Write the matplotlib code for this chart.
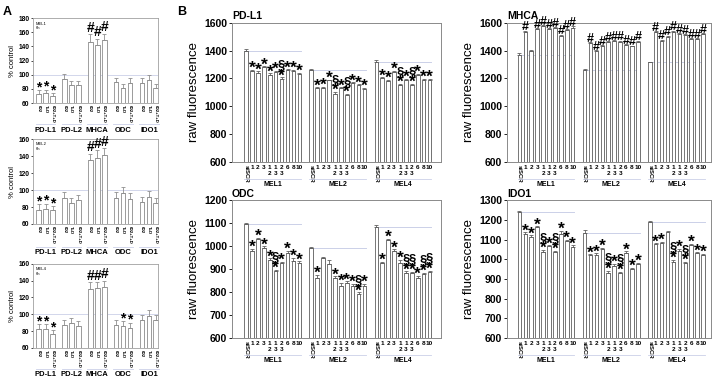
import matplotlib
matplotlib.use("Agg")
import matplotlib.pyplot as plt
import matplotlib.transforms as mtransforms
import numpy as np

plt.rcParams['font.family'] = ['Liberation Sans', 'DejaVu Sans']

# ---- panel A data (% control, 6h) ----
genes_a = ["PD-L1", "PD-L2", "MHCA", "ODC", "IDO1"]
treat_a = ["602", "T+D", "602+T+D"]

mel1_6h = [73, 74, 70, 94, 86, 86, 147, 142, 149, 90, 82, 89, 89, 93, 82]
mel1_6h_err = [5, 5, 4, 7, 5, 5, 10, 9, 9, 6, 5, 6, 6, 6, 5]
mel1_6h_marks = ["*", "*", "*", "", "", "", "#", "#", "#", "", "", "", "", "", ""]

mel2_6h = [76, 78, 76, 91, 85, 88, 135, 138, 141, 91, 96, 90, 86, 92, 85]
mel2_6h_err = [7, 6, 5, 7, 6, 6, 8, 9, 8, 7, 7, 7, 6, 7, 6]
mel2_6h_marks = ["*", "*", "*", "", "", "", "#", "#", "#", "", "", "", "", "", ""]

mel4_6h = [82, 82, 76, 87, 90, 86, 130, 131, 133, 87, 86, 84, 93, 98, 93]
mel4_6h_err = [6, 6, 5, 6, 6, 6, 8, 7, 7, 6, 6, 6, 6, 7, 6]
mel4_6h_marks = ["*", "*", "*", "", "", "", "#", "#", "#", "", "*", "*", "", "", ""]

# ---- panel B data (raw fluorescence) ----
cell_lines = ["MEL1", "MEL2", "MEL4"]
sirna = ["siSCR", "1", "2", "3", "1\n2", "1\n3", "2\n3", "6", "8", "10"]

pdl1 = [1395, 1255, 1240, 1280, 1225, 1245, 1195, 1260, 1255, 1235,
        1260, 1130, 1130, 1185, 1090, 1130, 1080, 1165, 1150, 1125,
        1320, 1200, 1180, 1245, 1150, 1190, 1150, 1225, 1190, 1190]
pdl1_err = [15, 6, 10, 6, 12, 8, 12, 6, 6, 6,
            6, 6, 8, 6, 12, 6, 8, 6, 8, 6,
            12, 8, 10, 8, 10, 6, 10, 8, 8, 6]
pdl1_marks = ["", "*", "*", "*", "*", "*", "§*", "*", "*", "*",
              "", "*", "*", "*", "§*", "*", "§*", "*", "*", "*",
              "", "*", "*", "*", "§*", "*", "§*", "*", "*", "*"]

mhca = [1370, 1535, 1395, 1555, 1575, 1555, 1560, 1505, 1545, 1565,
        1260, 1455, 1395, 1435, 1460, 1470, 1465, 1440, 1430, 1465,
        1315, 1530, 1470, 1500, 1535, 1520, 1510, 1480, 1480, 1520]
mhca_err = [10, 8, 6, 8, 8, 8, 8, 10, 8, 8,
            4, 6, 6, 6, 6, 6, 6, 6, 6, 6,
            4, 8, 8, 8, 8, 8, 8, 10, 8, 8]
mhca_marks = ["", "#", "", "#", "#", "#", "#", "#", "#", "#",
              "", "#", "#", "#", "#", "#", "#", "#", "#", "#",
              "", "#", "#", "#", "#", "#", "#", "#", "#", "#"]

odc = [1095, 978, 1030, 992, 940, 893, 925, 968, 935, 927,
       990, 863, 950, 922, 860, 825, 838, 828, 790, 825,
       1085, 925, 1025, 978, 925, 882, 885, 862, 878, 888]
odc_err = [6, 10, 6, 8, 8, 4, 6, 12, 14, 8,
           4, 12, 4, 18, 8, 15, 10, 8, 10, 12,
           8, 8, 6, 8, 15, 8, 4, 8, 6, 4]
odc_marks = ["", "*", "*", "*", "*", "§*", "*", "*", "*", "*",
             "", "*", "", "", "*", "*", "*", "*", "§*", "*",
             "", "*", "*", "*", "*", "§*", "§*", "*", "§*", "§*"]

ido1 = [1240, 1130, 1115, 1162, 1035, 1066, 1037, 1130, 1092, 1060,
        1135, 1020, 1020, 1050, 930, 965, 930, 1030, 950, 975,
        1190, 1075, 1080, 1140, 985, 1040, 980, 1070, 1030, 1020]
ido1_err = [6, 8, 6, 6, 12, 6, 6, 15, 8, 10,
            15, 6, 10, 8, 12, 12, 6, 10, 8, 8,
            6, 6, 8, 4, 12, 12, 6, 8, 6, 8]
ido1_marks = ["", "*", "*", "*", "§*", "*", "§*", "*", "*", "*",
              "", "*", "*", "*", "§*", "*", "§*", "*", "*", "*",
              "", "*", "*", "", "§*", "*", "§*", "*", "*", "*"]

LINE_BLUE = "#cbd0e8"

fig = plt.figure(figsize=(7.18, 3.79), dpi=100)


def stack_marks(ax, x, tops, marks, size, base, step):
    for xi, top, m in zip(x, tops, marks):
        for k, ch in enumerate(reversed(m)):
            fs = size * 0.75 if ch == "§" else size
            off = base + 2.5 if ch == "#" else base
            ax.annotate(ch, (xi, top), xytext=(0, off + k * step),
                        textcoords="offset points", ha="center", va="bottom",
                        fontsize=fs, fontweight="bold", annotation_clip=False, zorder=5)


def draw_bars(ax, x, vals, errs, width, shift, edge, shade):
    # grey offset copy behind the white bar gives the shaded look of the original
    ax.bar(np.array(x) + shift, vals, width, color=shade, linewidth=0, zorder=1.5)
    ax.bar(x, vals, width, color="white", edgecolor=edge, linewidth=0.6, zorder=2)
    ax.errorbar(x, vals, yerr=[np.zeros(len(vals)), errs], fmt="none",
                ecolor=edge, elinewidth=0.6, capsize=1.5, capthick=0.6, zorder=2.5)


def panel_a(rect, vals, errs, marks, tag, ymax, lab_y):
    ax = fig.add_axes(rect)
    x = [g * 3.7 + i for g in range(len(genes_a)) for i in range(3)]
    draw_bars(ax, x, vals, errs, 0.68, 0.14, "#8f8f8f", "#d2d2d2")
    ax.axhline(100, color=LINE_BLUE, lw=0.6, zorder=1)
    ax.set_ylim(60, ymax)
    ax.set_yticks(range(60, ymax + 1, 20))
    ax.set_xlim(-0.8, 17.1)
    ax.set_xticks(x)
    ax.set_xticklabels(treat_a * len(genes_a), rotation=270, fontsize=3.2, fontweight="bold")
    ax.tick_params(axis="x", length=0, pad=1.5)
    ax.tick_params(axis="y", length=1.5, width=0.5, labelsize=4.8, pad=1)
    for t in ax.get_yticklabels():
        t.set_fontweight("bold")
    for s in ax.spines.values():
        s.set_color("#a0a0a0")
        s.set_linewidth(0.6)
    ax.set_ylabel("% control", fontsize=5.5, labelpad=2)
    ax.text(0.02, 0.96, tag, transform=ax.transAxes, fontsize=3, va="top", ha="left")
    tr = mtransforms.blended_transform_factory(ax.transData, ax.transAxes)
    for g, name in enumerate(genes_a):
        ax.plot([g * 3.7 - 0.4, g * 3.7 + 2.4], [lab_y + 0.07] * 2, transform=tr,
                color=LINE_BLUE, lw=0.6, clip_on=False)
        ax.text(g * 3.7 + 1, lab_y, name, transform=tr, ha="center", va="center",
                fontsize=5.5, fontweight="bold")
    tops = [v + e for v, e in zip(vals, errs)]
    stack_marks(ax, x, tops, marks, 10, -3, 6)
    return ax


def panel_b(rect, vals, errs, marks, title, ylim, step, xlim):
    ax = fig.add_axes(rect)
    x = [g * 11 + i for g in range(len(cell_lines)) for i in range(len(sirna))]
    draw_bars(ax, x, vals, errs, 0.6, 0.16, "#606060", "#bdbdbd")
    for g in range(len(cell_lines)):
        ax.plot([g * 11, g * 11 + 9.3], [vals[g * 10]] * 2, color=LINE_BLUE, lw=0.7, zorder=1)
    ax.set_ylim(*ylim)
    ax.set_yticks(np.arange(ylim[0], ylim[1] + 1, step))
    ax.set_xlim(*xlim)
    ax.set_xticks(x)
    ax.set_xticklabels(sirna * len(cell_lines), fontsize=4.6, fontweight="bold", linespacing=1.35)
    for t in ax.get_xticklabels():
        if t.get_text() == "siSCR":
            t.set_rotation(270)
            t.set_fontsize(4.3)
    ax.tick_params(axis="x", length=0, pad=2)
    ax.tick_params(axis="y", length=2, width=0.6, labelsize=7.5, pad=1.5)
    for t in ax.get_yticklabels():
        t.set_fontweight("bold")
    for s in ax.spines.values():
        s.set_color("#8a8a8a")
        s.set_linewidth(0.7)
    ax.set_ylabel("raw fluorescence", fontsize=9.5, labelpad=3)
    ax.text(0.0, 1.01, title, transform=ax.transAxes, fontsize=7.5, fontweight="bold",
            ha="left", va="bottom")
    tr = mtransforms.blended_transform_factory(ax.transData, ax.transAxes)
    for g, name in enumerate(cell_lines):
        ax.plot([g * 11 - 0.3, g * 11 + 9.3], [-0.125] * 2, transform=tr,
                color=LINE_BLUE, lw=0.6, clip_on=False)
        ax.text(g * 11 + 4.5, -0.16, name, transform=tr, ha="center", va="center",
                fontsize=5, fontweight="bold")
    tops = [v + e for v, e in zip(vals, errs)]
    sym = 9 if any("#" in m for m in marks) else 12.5
    stack_marks(ax, x, tops, marks, sym, -4.5, 8.5)
    return ax


panel_a([0.046, 0.728, 0.174, 0.224], mel1_6h, mel1_6h_err, mel1_6h_marks, "MEL1\n6h", 180, -0.32)
panel_a([0.046, 0.409, 0.174, 0.224], mel2_6h, mel2_6h_err, mel2_6h_marks, "MEL2\n6h", 160, -0.34)
panel_a([0.046, 0.082, 0.174, 0.222], mel4_6h, mel4_6h_err, mel4_6h_marks, "MEL4\n6h", 160, -0.32)

panel_b([0.323, 0.573, 0.291, 0.367], pdl1, pdl1_err, pdl1_marks, "PD-L1", (600, 1600), 200, (-2.4, 32.9))
panel_b([0.706, 0.573, 0.284, 0.367], mhca, mhca_err, mhca_marks, "MHCA", (600, 1600), 200, (-2.1, 32.3))
panel_b([0.323, 0.108, 0.291, 0.364], odc, odc_err, odc_marks, "ODC", (600, 1200), 100, (-2.4, 32.9))
panel_b([0.706, 0.108, 0.284, 0.364], ido1, ido1_err, ido1_marks, "IDO1", (600, 1300), 100, (-2.1, 32.3))

fig.text(0.004, 0.985, "A", fontsize=9, fontweight="bold", va="top")
fig.text(0.246, 0.985, "B", fontsize=9, fontweight="bold", va="top")

fig.savefig("out.png", dpi=100)
